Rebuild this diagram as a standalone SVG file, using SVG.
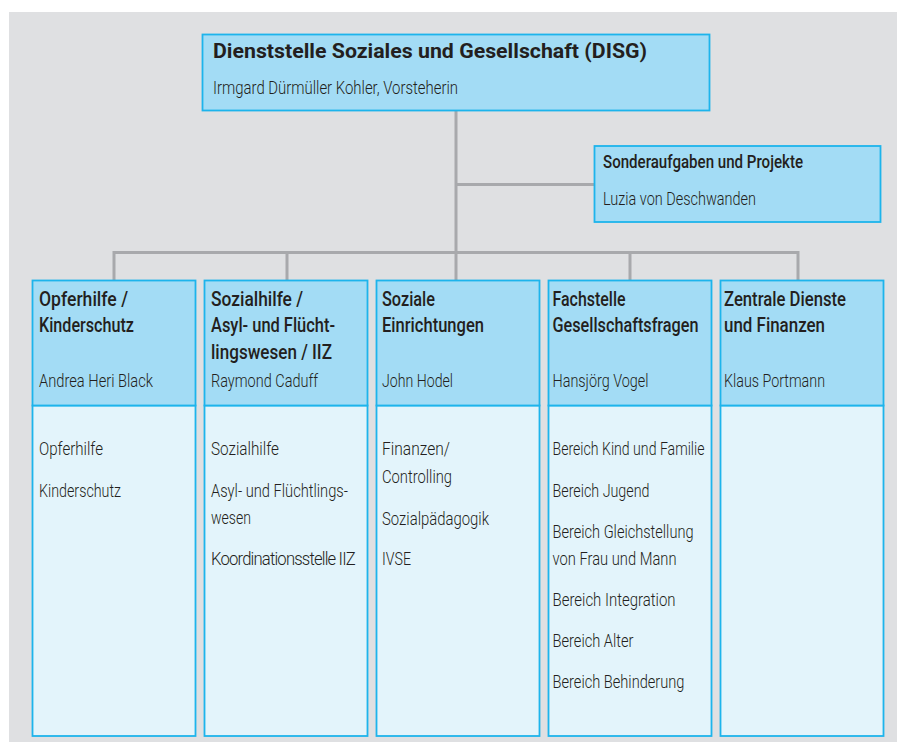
<svg xmlns="http://www.w3.org/2000/svg" width="897" height="744" viewBox="0 0 897 744">
<style>
.bg{fill:#dfe0e2}
.hd{fill:#a3dcf5;stroke:#1db4ec;stroke-width:1.8}
.bd{fill:#e3f4fb;stroke:#1db4ec;stroke-width:1.8}
.cn{stroke:#a8a9ac;stroke-width:3;fill:none}
text{fill:#231f20;font-family:Roboto,"Liberation Sans",sans-serif}
.t{font-size:21px;font-weight:700}
.h{font-size:19.5px;font-weight:500}
.s{font-size:18.5px;font-weight:500}
.p{font-size:19px;font-weight:300}
.n{font-size:18px;letter-spacing:-0.9px}
</style>
<rect class="bg" x="9" y="12" width="888" height="730"/>
<g id="connectors">
<line class="cn" x1="456" y1="111" x2="456" y2="280"/>
<line class="cn" x1="456" y1="184.5" x2="594.5" y2="184.5"/>
<polyline class="cn" points="114,280 114,252.5 798,252.5 798,280"/>
<line class="cn" x1="287" y1="252.5" x2="287" y2="280"/>
<line class="cn" x1="630" y1="252.5" x2="630" y2="280"/>
</g>
<g id="disg">
<rect class="hd" x="202.5" y="34.5" width="507" height="76"/>
<text class="t" x="213" y="58" textLength="434" lengthAdjust="spacingAndGlyphs">Dienststelle Soziales und Gesellschaft (DISG)</text>
<text class="p" x="213" y="94" textLength="245" lengthAdjust="spacingAndGlyphs">Irmgard Dürmüller Kohler, Vorsteherin</text>
</g>
<g id="sonder">
<rect class="hd" x="594.5" y="146" width="286" height="76"/>
<text class="s" x="603" y="168" textLength="200" lengthAdjust="spacingAndGlyphs">Sonderaufgaben und Projekte</text>
<text class="p" x="603" y="205" textLength="153" lengthAdjust="spacingAndGlyphs">Luzia von Deschwanden</text>
</g>
<g id="opferhilfe">
<rect class="bd" x="32.5" y="405.5" width="163" height="330.5"/>
<rect class="hd" x="32.5" y="280.5" width="163" height="125"/>
<text class="h" x="39" y="305.5" textLength="89" lengthAdjust="spacingAndGlyphs">Opferhilfe /</text>
<text class="h" x="39" y="332" textLength="95" lengthAdjust="spacingAndGlyphs">Kinderschutz</text>
<text class="p" x="39" y="387" textLength="114" lengthAdjust="spacingAndGlyphs">Andrea Heri Black</text>
<text class="p" x="39" y="455" textLength="64" lengthAdjust="spacingAndGlyphs">Opferhilfe</text>
<text class="p" x="39" y="496.5" textLength="82" lengthAdjust="spacingAndGlyphs">Kinderschutz</text>
</g>
<g id="sozialhilfe">
<rect class="bd" x="204.5" y="405.5" width="163" height="330.5"/>
<rect class="hd" x="204.5" y="280.5" width="163" height="125"/>
<text class="h" x="211" y="305.5" textLength="92" lengthAdjust="spacingAndGlyphs">Sozialhilfe /</text>
<text class="h" x="211" y="332" textLength="124" lengthAdjust="spacingAndGlyphs">Asyl- und Flücht-</text>
<text class="h" x="211" y="358.5" textLength="121" lengthAdjust="spacingAndGlyphs">lingswesen / IIZ</text>
<text class="p" x="211" y="387" textLength="107" lengthAdjust="spacingAndGlyphs">Raymond Caduff</text>
<text class="p" x="211" y="455" textLength="68" lengthAdjust="spacingAndGlyphs">Sozialhilfe</text>
<text class="p" x="211" y="497" textLength="137" lengthAdjust="spacingAndGlyphs">Asyl- und Flüchtlings-</text>
<text class="p" x="211" y="524" textLength="40" lengthAdjust="spacingAndGlyphs">wesen</text>
<text class="p n" x="211" y="565" textLength="144" lengthAdjust="spacingAndGlyphs">Koordinationsstelle IIZ</text>
</g>
<g id="einrichtungen">
<rect class="bd" x="376.5" y="405.5" width="163" height="330.5"/>
<rect class="hd" x="376.5" y="280.5" width="163" height="125"/>
<text class="h" x="382" y="305.5" textLength="53" lengthAdjust="spacingAndGlyphs">Soziale</text>
<text class="h" x="382" y="332" textLength="102" lengthAdjust="spacingAndGlyphs">Einrichtungen</text>
<text class="p" x="382" y="387" textLength="71" lengthAdjust="spacingAndGlyphs">John Hodel</text>
<text class="p" x="382" y="455" textLength="68" lengthAdjust="spacingAndGlyphs">Finanzen/</text>
<text class="p" x="382" y="482.5" textLength="70" lengthAdjust="spacingAndGlyphs">Controlling</text>
<text class="p" x="382" y="524.5" textLength="107" lengthAdjust="spacingAndGlyphs">Sozialpädagogik</text>
<text class="p" x="382" y="565" textLength="29" lengthAdjust="spacingAndGlyphs">IVSE</text>
</g>
<g id="fachstelle">
<rect class="bd" x="548.5" y="405.5" width="163" height="330.5"/>
<rect class="hd" x="548.5" y="280.5" width="163" height="125"/>
<text class="h" x="552.5" y="305.5" textLength="73" lengthAdjust="spacingAndGlyphs">Fachstelle</text>
<text class="h" x="552.5" y="332" textLength="146" lengthAdjust="spacingAndGlyphs">Gesellschaftsfragen</text>
<text class="p" x="552.5" y="387" textLength="96" lengthAdjust="spacingAndGlyphs">Hansjörg Vogel</text>
<text class="p" x="552.5" y="455" textLength="152" lengthAdjust="spacingAndGlyphs">Bereich Kind und Familie</text>
<text class="p" x="552.5" y="496.5" textLength="97" lengthAdjust="spacingAndGlyphs">Bereich Jugend</text>
<text class="p" x="552.5" y="537.5" textLength="141" lengthAdjust="spacingAndGlyphs">Bereich Gleichstellung</text>
<text class="p" x="552.5" y="565" textLength="124" lengthAdjust="spacingAndGlyphs">von Frau und Mann</text>
<text class="p" x="552.5" y="605.5" textLength="123" lengthAdjust="spacingAndGlyphs">Bereich Integration</text>
<text class="p" x="552.5" y="646.5" textLength="81" lengthAdjust="spacingAndGlyphs">Bereich Alter</text>
<text class="p" x="552.5" y="687.5" textLength="132" lengthAdjust="spacingAndGlyphs">Bereich Behinderung</text>
</g>
<g id="zentrale">
<rect class="bd" x="720.5" y="405.5" width="163" height="330.5"/>
<rect class="hd" x="720.5" y="280.5" width="163" height="125"/>
<text class="h" x="724" y="305.5" textLength="122" lengthAdjust="spacingAndGlyphs">Zentrale Dienste</text>
<text class="h" x="724" y="332" textLength="101" lengthAdjust="spacingAndGlyphs">und Finanzen</text>
<text class="p" x="724" y="387" textLength="101" lengthAdjust="spacingAndGlyphs">Klaus Portmann</text>
</g>
</svg>
